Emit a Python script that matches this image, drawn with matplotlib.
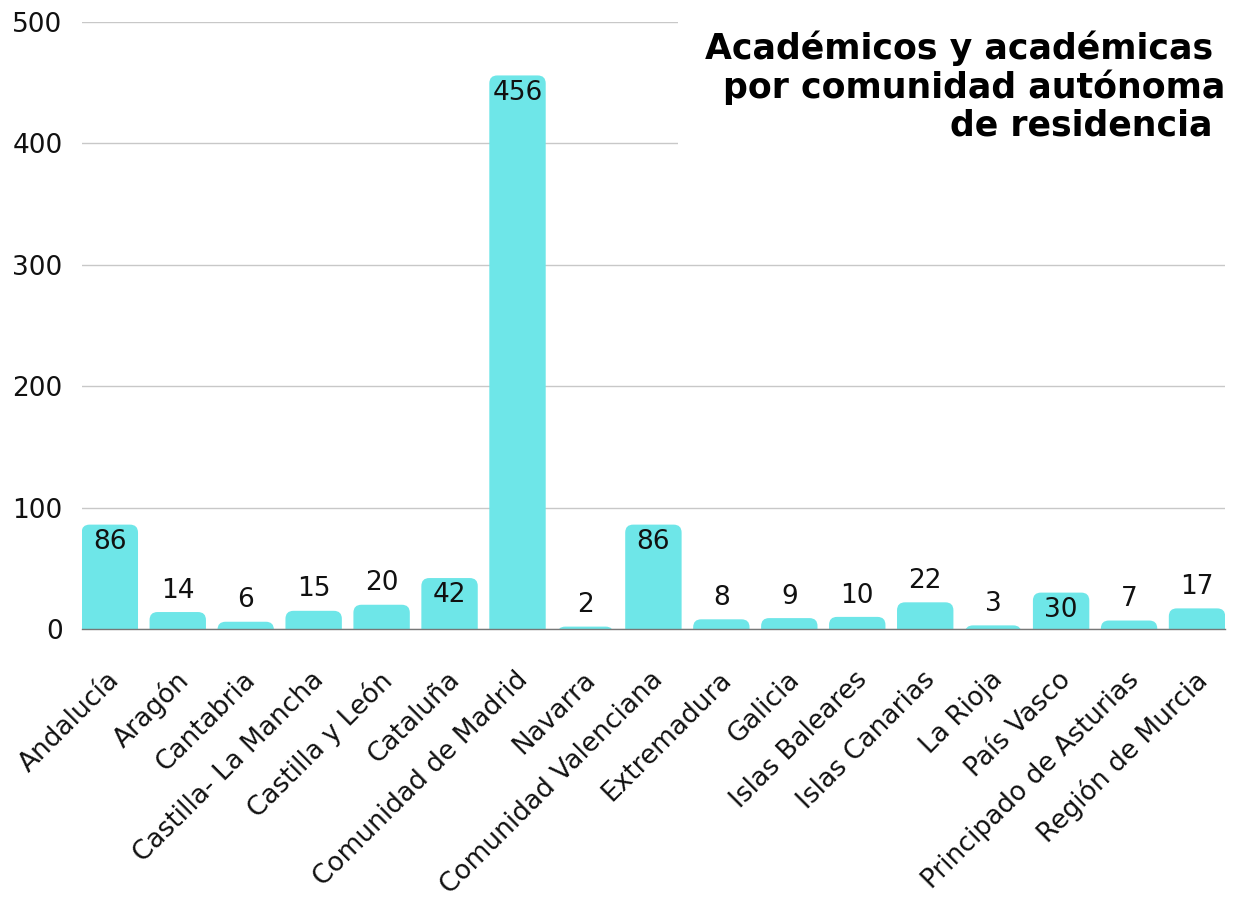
import numpy as np
import matplotlib.pyplot as plt
import matplotlib.transforms as mtransforms
from matplotlib.patches import FancyBboxPatch

# data
regions = ['Andalucía', 'Aragón', 'Cantabria', 'Castilla- La Mancha', 'Castilla y León',
           'Cataluña', 'Comunidad de Madrid', 'Navarra', 'Comunidad Valenciana',
           'Extremadura', 'Galicia', 'Islas Baleares', 'Islas Canarias', 'La Rioja',
           'País Vasco', 'Principado de Asturias', 'Región de Murcia']
counts = [86, 14, 6, 15, 20, 42, 456, 2, 86, 8, 9, 10, 22, 3, 30, 7, 17]
title = 'Académicos y académicas \npor comunidad autónoma\nde residencia '

bar_color = '#6ee6e8'
plt.rcParams['font.family'] = ['DejaVu Sans']

fig = plt.figure(figsize=(12.36, 8.99), dpi=100)
ax = fig.add_axes([0.0663, 0.3003, 0.9247, 0.6752])

x = np.arange(len(regions))
bars = ax.bar(x, counts, width=0.83, color=bar_color)

# swap plain bars for bars with rounded top corners
ax.set_xlim(-0.41, len(regions) - 1 + 0.41)
ax.set_ylim(0, 500)
fig.canvas.draw()
px_x = ax.transData.transform((1, 0))[0] - ax.transData.transform((0, 0))[0]
px_y = ax.transData.transform((0, 1))[1] - ax.transData.transform((0, 0))[1]
r = 8  # corner radius, pixels
for b in bars:
    b.set_visible(False)
    bx, bw, bh = b.get_x(), b.get_width(), b.get_height()
    p = FancyBboxPatch((bx, -30), bw, bh + 30,
                       boxstyle=f'round,pad=0,rounding_size={r / px_x}',
                       mutation_aspect=px_x / px_y,
                       facecolor=bar_color, edgecolor='none', zorder=2)
    ax.add_patch(p)

for xi, v in zip(x, counts):
    if v >= 30:
        ax.annotate(str(v), (xi, v), xytext=(0, -3), textcoords='offset points',
                    ha='center', va='top', fontsize=19, color='#111111', zorder=3)
    else:
        ax.annotate(str(v), (xi, v), xytext=(0, 6), textcoords='offset points',
                    ha='center', va='bottom', fontsize=19, color='#111111', zorder=3)

ax.set_yticks([0, 100, 200, 300, 400, 500])
ax.grid(axis='y', color='#c8c8c8', linewidth=1)
ax.set_axisbelow(True)
ax.set_xticks(x)
ax.set_xticklabels(regions, rotation=45, ha='right', va='top', rotation_mode='anchor')
ax.tick_params(axis='both', length=0, labelsize=19, colors='#111111')
ax.tick_params(axis='y', pad=14)
ax.tick_params(axis='x', pad=27)
shift = mtransforms.ScaledTranslation(-3 / 100, 0, fig.dpi_scale_trans)
for lab in ax.get_xticklabels():
    lab.set_transform(lab.get_transform() + shift)
for s in ['top', 'right', 'left']:
    ax.spines[s].set_visible(False)
ax.spines['bottom'].set_color('#777777')
ax.spines['bottom'].set_linewidth(1)

fig.text(0.991, 0.966, title, ha='right', va='top', fontsize=25, fontweight='bold',
         multialignment='right', linespacing=1.12, color='black',
         bbox=dict(facecolor='white', edgecolor='none', pad=19))

plt.savefig('out.png', dpi=100)
